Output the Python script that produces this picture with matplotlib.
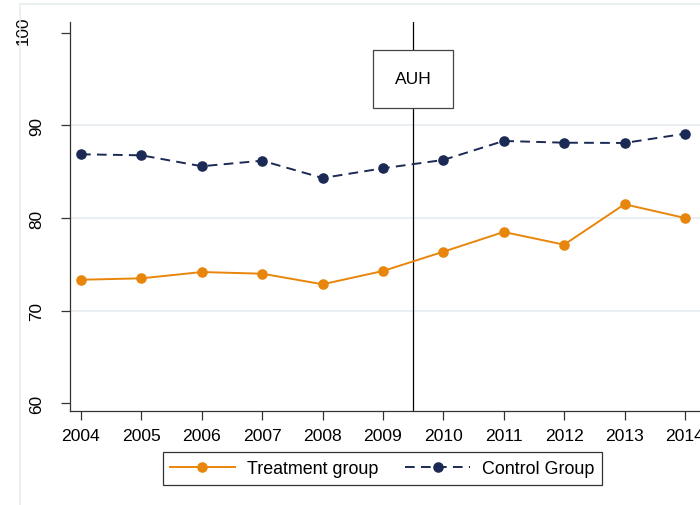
import matplotlib
matplotlib.use("Agg")
import matplotlib.pyplot as plt
import matplotlib.transforms as mtransforms
from matplotlib.patches import Rectangle

years = [2004, 2005, 2006, 2007, 2008, 2009, 2010, 2011, 2012, 2013, 2014]
treatment = [73.34, 73.49, 74.17, 73.99, 72.85, 74.28, 76.36, 78.49, 77.12, 81.48, 80.0]
control = [86.87, 86.76, 85.58, 86.18, 84.31, 85.36, 86.26, 88.31, 88.12, 88.09, 89.09]
y_ticks = [60, 70, 80, 90, 100]
grid_vals = [70, 80, 90]
policy_year = 2009.5
policy_label = "AUH"

plt.rcParams['font.family'] = ['Liberation Sans', 'DejaVu Sans']
plt.rcParams['lines.scale_dashes'] = False

orange = "#E8860C"
navy = "#1B2A55"

fig = plt.figure(figsize=(7.0, 5.06), dpi=100)
fig.patch.set_facecolor("white")

# light outer border of the graph region (runs off the right/bottom edge)
fig.patches.append(Rectangle((20 / 700, -0.05), 1.2, (506 - 5) / 506 + 0.05,
                             transform=fig.transFigure, fill=False,
                             edgecolor="#e6ecef", lw=1.2))

ax = fig.add_axes([70 / 700, 94 / 506, 630 / 700, 389 / 506])
ax.set_xlim(2003.818, 2014.25)
ax.set_ylim(59.18, 101.14)

for g in grid_vals:
    ax.axhline(g, color="#e8eef2", lw=1.3, zorder=0)

ax.plot(years, treatment, color=orange, lw=1.4, marker="o", markersize=6.6,
        label="Treatment group", zorder=3)
ax.plot(years, control, color=navy, lw=1.4, marker="o", markersize=6.6,
        dashes=(7, 4.5), label="Control Group", zorder=3)

ax.axvline(policy_year, color="black", lw=0.9, zorder=2)
ax.text(policy_year, 95.0, policy_label, ha="center", va="center", fontsize=12.5,
        zorder=4,
        bbox=dict(boxstyle="square,pad=1.25", facecolor="white",
                  edgecolor="#444444", lw=0.9))

ax.set_xticks(years)
ax.set_xticklabels([str(y) for y in years], fontsize=12.6)
ax.set_yticks(y_ticks)
ax.set_yticklabels([str(v) for v in y_ticks], fontsize=12.3, rotation=90, va="center")
ax.tick_params(axis="both", direction="out", length=6.5, width=0.9, color="#333333")
ax.tick_params(axis="y", pad=12)
ax.tick_params(axis="x", pad=5.5)

# the top label sits a bit further out, as in the original export
top_lbl = ax.get_yticklabels()[-1]
top_lbl.set_transform(top_lbl.get_transform() +
                      mtransforms.ScaledTranslation(-14 / 100, 3 / 100, fig.dpi_scale_trans))

for s in ["top", "right"]:
    ax.spines[s].set_visible(False)
for s in ["left", "bottom"]:
    ax.spines[s].set_color("#333333")
    ax.spines[s].set_linewidth(0.9)

leg = fig.legend(loc="center", bbox_to_anchor=(382.5 / 700, 36.5 / 506), ncol=2,
                 fontsize=12.9, frameon=True, fancybox=False, edgecolor="black",
                 handlelength=3.6, columnspacing=1.5, borderpad=0.42,
                 handletextpad=0.7)
leg.get_frame().set_linewidth(0.9)

fig.savefig("out.png", dpi=100, facecolor="white")
